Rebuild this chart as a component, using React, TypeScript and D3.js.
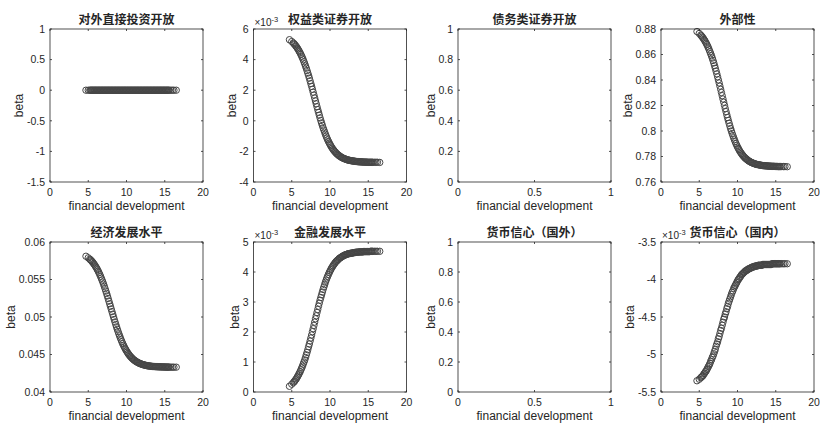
import React, { useEffect, useRef } from "react";
import * as d3 from "d3";

// financial development (x), shared by every panel
const xFinDev = [
  4.7, 5.0,
  5.2, 5.3, 5.4, 5.5, 5.6, 5.7, 5.8, 5.9,
  6.0, 6.1, 6.2, 6.3, 6.4, 6.5, 6.6, 6.7, 6.8, 6.9,
  7.0, 7.1, 7.2, 7.3, 7.4, 7.5, 7.6, 7.7, 7.8, 7.9,
  8.0, 8.1, 8.2, 8.3, 8.4, 8.5, 8.6, 8.7, 8.8, 8.9,
  9.0, 9.1, 9.2, 9.3, 9.4, 9.5, 9.6, 9.7, 9.8, 9.9,
  10.0, 10.1, 10.2, 10.3, 10.4, 10.5, 10.6, 10.7, 10.8, 10.9,
  11.0, 11.1, 11.2, 11.3, 11.4, 11.5, 11.6, 11.7, 11.8, 11.9,
  12.0, 12.1, 12.2, 12.3, 12.4, 12.5, 12.6, 12.7, 12.8, 12.9,
  13.0, 13.1, 13.2, 13.3, 13.4, 13.5, 13.6, 13.7, 13.8, 13.9,
  14.0, 14.1, 14.2, 14.3, 14.4, 14.5, 14.6, 14.7, 14.8, 14.9,
  15.0, 15.1, 15.2, 15.3, 15.4, 15.5, 15.6,
  15.8, 16.0, 16.2, 16.5,
];

const betaFDI = [
  0, 0,
  0, 0, 0, 0, 0, 0, 0, 0,
  0, 0, 0, 0, 0, 0, 0, 0, 0, 0,
  0, 0, 0, 0, 0, 0, 0, 0, 0, 0,
  0, 0, 0, 0, 0, 0, 0, 0, 0, 0,
  0, 0, 0, 0, 0, 0, 0, 0, 0, 0,
  0, 0, 0, 0, 0, 0, 0, 0, 0, 0,
  0, 0, 0, 0, 0, 0, 0, 0, 0, 0,
  0, 0, 0, 0, 0, 0, 0, 0, 0, 0,
  0, 0, 0, 0, 0, 0, 0, 0, 0, 0,
  0, 0, 0, 0, 0, 0, 0, 0, 0, 0,
  0, 0, 0, 0, 0, 0, 0,
  0, 0, 0, 0,
];

// units of 1e-3
const betaEquity = [
  5.30, 5.18,
  5.09, 5.03, 4.98, 4.91, 4.85, 4.77, 4.70, 4.61,
  4.52, 4.43, 4.33, 4.22, 4.11, 3.99, 3.86, 3.72, 3.58, 3.44,
  3.28, 3.12, 2.96, 2.79, 2.61, 2.43, 2.25, 2.06, 1.87, 1.68,
  1.49, 1.30, 1.11, 0.92, 0.73, 0.55, 0.37, 0.19, 0.02, -0.14,
  -0.30, -0.46, -0.60, -0.74, -0.88, -1.01, -1.13, -1.24, -1.35, -1.45,
  -1.54, -1.63, -1.72, -1.79, -1.87, -1.93, -2.00, -2.05, -2.11, -2.16,
  -2.20, -2.25, -2.28, -2.32, -2.35, -2.39, -2.41, -2.44, -2.46, -2.48,
  -2.50, -2.52, -2.54, -2.55, -2.57, -2.58, -2.59, -2.60, -2.61, -2.62,
  -2.63, -2.63, -2.64, -2.65, -2.66, -2.66, -2.67, -2.67, -2.68, -2.68,
  -2.68, -2.69, -2.69, -2.69, -2.70, -2.70, -2.70, -2.70, -2.70, -2.71,
  -2.71, -2.71, -2.71, -2.71, -2.71, -2.71, -2.71,
  -2.71, -2.71, -2.71, -2.72,
];

const betaExternal = [
  0.8780, 0.8765,
  0.8752, 0.8745, 0.8737, 0.8729, 0.8720, 0.8711, 0.8700, 0.8689,
  0.8678, 0.8665, 0.8652, 0.8637, 0.8622, 0.8606, 0.8590, 0.8572, 0.8553, 0.8534,
  0.8513, 0.8492, 0.8470, 0.8448, 0.8425, 0.8401, 0.8377, 0.8352, 0.8327, 0.8302,
  0.8277, 0.8251, 0.8226, 0.8201, 0.8176, 0.8152, 0.8128, 0.8105, 0.8083, 0.8061,
  0.8040, 0.8019, 0.8000, 0.7981, 0.7964, 0.7947, 0.7931, 0.7916, 0.7901, 0.7888,
  0.7875, 0.7864, 0.7853, 0.7842, 0.7833, 0.7824, 0.7816, 0.7808, 0.7801, 0.7794,
  0.7788, 0.7783, 0.7778, 0.7773, 0.7768, 0.7764, 0.7761, 0.7757, 0.7754, 0.7751,
  0.7749, 0.7746, 0.7744, 0.7742, 0.7740, 0.7738, 0.7737, 0.7736, 0.7735, 0.7733,
  0.7732, 0.7731, 0.7730, 0.7729, 0.7728, 0.7728, 0.7727, 0.7727, 0.7726, 0.7726,
  0.7725, 0.7725, 0.7724, 0.7724, 0.7724, 0.7723, 0.7723, 0.7723, 0.7723, 0.7722,
  0.7722, 0.7722, 0.7722, 0.7721, 0.7721, 0.7721, 0.7721,
  0.7721, 0.7721, 0.7721, 0.7720,
];

const betaEcon = [
  0.05810, 0.05789,
  0.05771, 0.05761, 0.05751, 0.05739, 0.05727, 0.05713, 0.05699, 0.05683,
  0.05667, 0.05650, 0.05631, 0.05611, 0.05590, 0.05568, 0.05544, 0.05519, 0.05493, 0.05466,
  0.05438, 0.05408, 0.05378, 0.05346, 0.05314, 0.05281, 0.05247, 0.05212, 0.05177, 0.05142,
  0.05107, 0.05072, 0.05037, 0.05002, 0.04967, 0.04933, 0.04900, 0.04868, 0.04836, 0.04806,
  0.04776, 0.04748, 0.04721, 0.04695, 0.04670, 0.04646, 0.04624, 0.04603, 0.04583, 0.04565,
  0.04547, 0.04531, 0.04515, 0.04501, 0.04487, 0.04475, 0.04464, 0.04453, 0.04443, 0.04434,
  0.04425, 0.04418, 0.04410, 0.04404, 0.04398, 0.04392, 0.04387, 0.04382, 0.04378, 0.04374,
  0.04370, 0.04367, 0.04363, 0.04361, 0.04358, 0.04356, 0.04353, 0.04351, 0.04349, 0.04348,
  0.04346, 0.04345, 0.04344, 0.04342, 0.04341, 0.04340, 0.04340, 0.04339, 0.04338, 0.04338,
  0.04337, 0.04337, 0.04336, 0.04336, 0.04335, 0.04335, 0.04335, 0.04334, 0.04334, 0.04334,
  0.04333, 0.04333, 0.04333, 0.04332, 0.04332, 0.04332, 0.04332,
  0.04331, 0.04331, 0.04331, 0.04331,
];

// units of 1e-3
const betaFinDev = [
  0.19, 0.26,
  0.31, 0.34, 0.37, 0.41, 0.44, 0.49, 0.53, 0.58,
  0.63, 0.68, 0.74, 0.80, 0.86, 0.93, 1.00, 1.07, 1.15, 1.24,
  1.32, 1.41, 1.51, 1.60, 1.70, 1.80, 1.90, 2.01, 2.11, 2.22,
  2.33, 2.44, 2.54, 2.65, 2.75, 2.86, 2.96, 3.06, 3.15, 3.24,
  3.33, 3.42, 3.50, 3.58, 3.66, 3.73, 3.80, 3.86, 3.92, 3.98,
  4.03, 4.08, 4.13, 4.17, 4.21, 4.25, 4.28, 4.32, 4.35, 4.37,
  4.40, 4.42, 4.45, 4.47, 4.48, 4.50, 4.52, 4.53, 4.55, 4.56,
  4.57, 4.58, 4.59, 4.60, 4.61, 4.61, 4.62, 4.62, 4.63, 4.63,
  4.64, 4.64, 4.65, 4.65, 4.66, 4.66, 4.66, 4.66, 4.67, 4.67,
  4.67, 4.67, 4.67, 4.67, 4.68, 4.68, 4.68, 4.68, 4.68, 4.68,
  4.68, 4.68, 4.68, 4.69, 4.69, 4.69, 4.69,
  4.69, 4.69, 4.69, 4.69,
];

// units of 1e-3
const betaCurrDomestic = [
  -5.35, -5.33,
  -5.31, -5.30, -5.29, -5.28, -5.26, -5.25, -5.23, -5.22,
  -5.20, -5.18, -5.16, -5.14, -5.12, -5.09, -5.07, -5.04, -5.02, -4.99,
  -4.96, -4.93, -4.89, -4.86, -4.83, -4.79, -4.76, -4.72, -4.68, -4.65,
  -4.61, -4.57, -4.53, -4.50, -4.46, -4.43, -4.39, -4.36, -4.32, -4.29,
  -4.26, -4.23, -4.20, -4.17, -4.15, -4.12, -4.10, -4.08, -4.06, -4.04,
  -4.02, -4.00, -3.99, -3.97, -3.96, -3.94, -3.93, -3.92, -3.91, -3.90,
  -3.89, -3.88, -3.88, -3.87, -3.86, -3.86, -3.85, -3.85, -3.84, -3.84,
  -3.83, -3.83, -3.83, -3.82, -3.82, -3.82, -3.82, -3.81, -3.81, -3.81,
  -3.81, -3.81, -3.81, -3.80, -3.80, -3.80, -3.80, -3.80, -3.80, -3.80,
  -3.80, -3.80, -3.80, -3.80, -3.80, -3.79, -3.79, -3.79, -3.79, -3.79,
  -3.79, -3.79, -3.79, -3.79, -3.79, -3.79, -3.79,
  -3.79, -3.79, -3.79, -3.79,
];

const titles = [
  "对外直接投资开放", "权益类证券开放", "债务类证券开放", "外部性",
  "经济发展水平", "金融发展水平", "货币信心（国外）", "货币信心（国内）",
];

const xTicksFD = [0, 5, 10, 15, 20];
const xTicksUnit = [0, 0.5, 1];
const yTicksFDI = [-1.5, -1, -0.5, 0, 0.5, 1];
const yTicksEquity = [-4, -2, 0, 2, 4, 6];
const yTicksUnit = [0, 0.2, 0.4, 0.6, 0.8, 1];
const yTicksExternal = [0.76, 0.78, 0.8, 0.82, 0.84, 0.86, 0.88];
const yTicksEcon = [0.04, 0.045, 0.05, 0.055, 0.06];
const yTicksFinDev = [0, 1, 2, 3, 4, 5];
const yTicksCurr = [-5.5, -5, -4.5, -4, -3.5];

const panels = [
  { y: betaFDI, xTicks: xTicksFD, yTicks: yTicksFDI, exp: false },
  { y: betaEquity, xTicks: xTicksFD, yTicks: yTicksEquity, exp: true },
  { y: null, xTicks: xTicksUnit, yTicks: yTicksUnit, exp: false },
  { y: betaExternal, xTicks: xTicksFD, yTicks: yTicksExternal, exp: false },
  { y: betaEcon, xTicks: xTicksFD, yTicks: yTicksEcon, exp: false },
  { y: betaFinDev, xTicks: xTicksFD, yTicks: yTicksFinDev, exp: true },
  { y: null, xTicks: xTicksUnit, yTicks: yTicksUnit, exp: false },
  { y: betaCurrDomestic, xTicks: xTicksFD, yTicks: yTicksCurr, exp: true },
];

const W = 820;
const H = 427;
const COL_X = [50, 253.5, 458, 661];
const ROW_Y = [29, 242];
const ROW_H = [153, 150];
const BOX_W = 153;
const TICK = 2;
const INK = "#262626";
const MARK = "#464646";
const LATIN = "'Liberation Sans', Arial, sans-serif";
const CJK = "'Noto Sans CJK SC', 'Liberation Sans', sans-serif";

export default function App() {
  const svgRef = useRef<SVGSVGElement>(null);

  useEffect(() => {
    if (!svgRef.current) return;
    const svg = d3.select(svgRef.current);
    svg.selectAll("*").remove();

    panels.forEach((p, i) => {
      const col = i % 4;
      const row = Math.floor(i / 4);
      const x0 = COL_X[col];
      const y0 = ROW_Y[row];
      const h = ROW_H[row];

      const xs = d3.scaleLinear()
        .domain(d3.extent(p.xTicks) as [number, number])
        .range([0, BOX_W]);
      const ys = d3.scaleLinear()
        .domain(d3.extent(p.yTicks) as [number, number])
        .range([h, 0]);

      const g = svg.append("g").attr("transform", `translate(${x0},${y0})`);

      // scatter (open circles)
      if (p.y) {
        const yv = p.y;
        g.selectAll("circle")
          .data(xFinDev.map((xv, k) => [xv, yv[k]]))
          .join("circle")
          .attr("cx", d => xs(d[0]))
          .attr("cy", d => ys(d[1]))
          .attr("r", 3.2)
          .attr("fill", "none")
          .attr("stroke", MARK)
          .attr("stroke-width", 1);
      }

      // box
      g.append("rect")
        .attr("width", BOX_W).attr("height", h)
        .attr("fill", "none")
        .attr("stroke", INK)
        .attr("stroke-width", 0.8);

      // x ticks (bottom + mirrored top)
      p.xTicks.forEach(t => {
        const x = xs(t);
        g.append("line").attr("x1", x).attr("x2", x).attr("y1", h).attr("y2", h - TICK)
          .attr("stroke", INK).attr("stroke-width", 0.8);
        g.append("line").attr("x1", x).attr("x2", x).attr("y1", 0).attr("y2", TICK)
          .attr("stroke", INK).attr("stroke-width", 0.8);
        g.append("text")
          .attr("x", x).attr("y", h + 14)
          .attr("text-anchor", "middle")
          .attr("font-size", "10.5px").attr("font-family", LATIN)
          .attr("fill", INK)
          .text(String(t));
      });

      // y ticks (left + mirrored right)
      let maxW = 0;
      p.yTicks.forEach(t => {
        const y = ys(t);
        g.append("line").attr("x1", 0).attr("x2", TICK).attr("y1", y).attr("y2", y)
          .attr("stroke", INK).attr("stroke-width", 0.8);
        g.append("line").attr("x1", BOX_W).attr("x2", BOX_W - TICK).attr("y1", y).attr("y2", y)
          .attr("stroke", INK).attr("stroke-width", 0.8);
        const txt = g.append("text")
          .attr("x", -5).attr("y", y + 3.8)
          .attr("text-anchor", "end")
          .attr("font-size", "10.5px").attr("font-family", LATIN)
          .attr("fill", INK)
          .text(String(t));
        const node = txt.node() as SVGTextElement;
        maxW = Math.max(maxW, node.getComputedTextLength());
      });

      // axis labels and title
      g.append("text")
        .attr("x", BOX_W / 2).attr("y", h + 28)
        .attr("text-anchor", "middle")
        .attr("font-size", "12px").attr("font-family", LATIN)
        .attr("fill", INK)
        .text("financial development");

      g.append("text")
        .attr("transform", `translate(${-5 - maxW - 7.5},${h / 2}) rotate(-90)`)
        .attr("text-anchor", "middle")
        .attr("dominant-baseline", "central")
        .attr("font-size", "12px").attr("font-family", LATIN)
        .attr("fill", INK)
        .text("beta");

      g.append("text")
        .attr("x", BOX_W / 2).attr("y", -10.5)
        .attr("text-anchor", "middle")
        .attr("dominant-baseline", "central")
        .attr("font-size", "12px").attr("font-weight", "700")
        .attr("font-family", CJK)
        .attr("fill", INK)
        .text(titles[i]);

      if (p.exp) {
        const e = g.append("text")
          .attr("x", 1).attr("y", -3)
          .attr("font-size", "10px").attr("font-family", LATIN)
          .attr("fill", INK);
        e.append("tspan").text("×10");
        e.append("tspan").attr("dy", -4.5).attr("font-size", "7.5px").text("-3");
      }
    });
  }, []);

  return (
    <svg
      ref={svgRef}
      width={W}
      height={H}
      style={{ position: "absolute", left: 0, top: 0, background: "#fff" }}
    />
  );
}
